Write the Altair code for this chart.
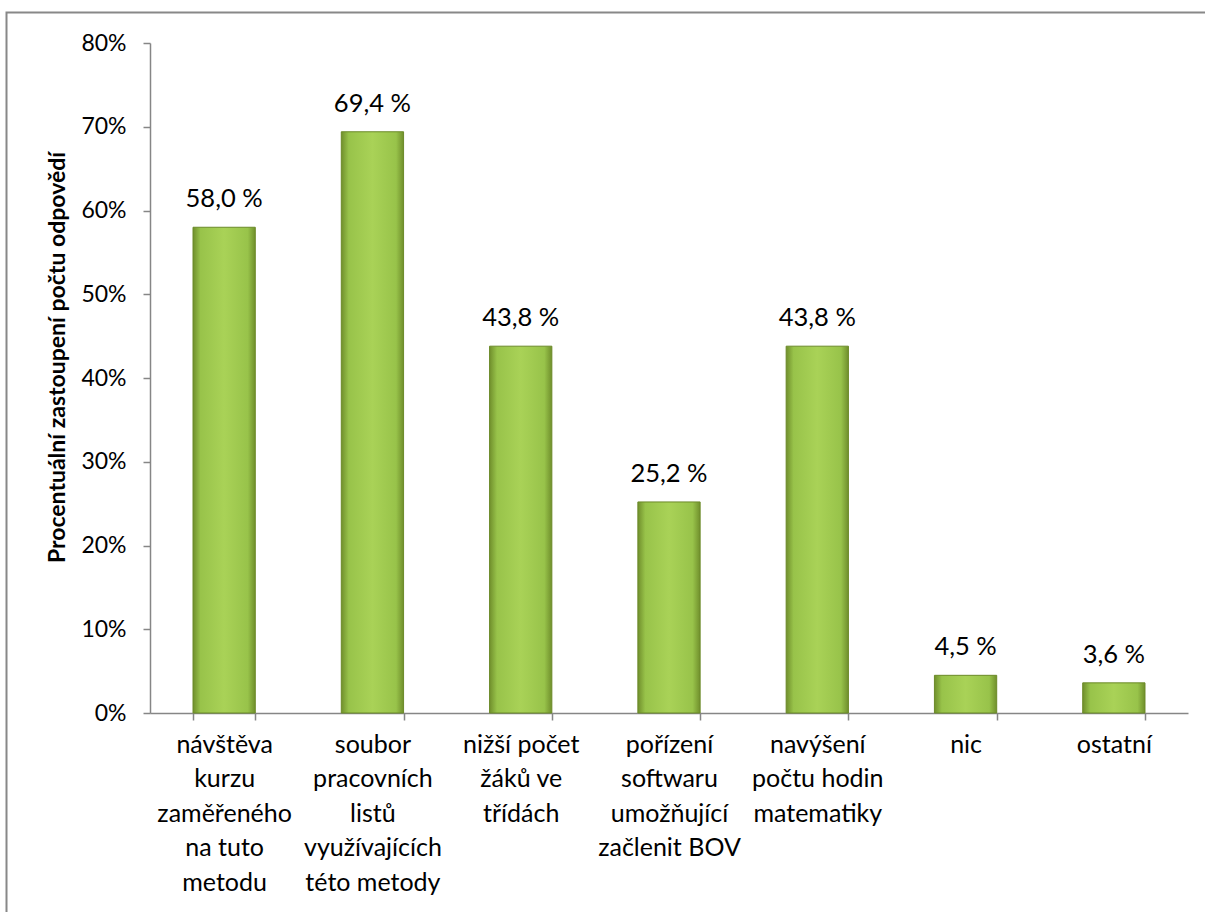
import altair as alt
import pandas as pd

categories = [
    "návštěva kurzu zaměřeného na tuto metodu",
    "soubor pracovních listů využívajících této metody",
    "nižší počet žáků ve třídách",
    "pořízení softwaru umožňující začlenit BOV",
    "navýšení počtu hodin matematiky",
    "nic",
    "ostatní",
]
label_lines = [
    ["návštěva", "kurzu", "zaměřeného", "na tuto", "metodu"],
    ["soubor", "pracovních", "listů", "využívajících", "této metody"],
    ["nižší počet", "žáků ve", "třídách"],
    ["pořízení", "softwaru", "umožňující", "začlenit BOV"],
    ["navýšení", "počtu hodin", "matematiky"],
    ["nic"],
    ["ostatní"],
]
values = [58.0, 69.4, 43.8, 25.2, 43.8, 4.5, 3.6]
value_labels = ["58,0 %", "69,4 %", "43,8 %", "25,2 %", "43,8 %", "4,5 %", "3,6 %"]

df = pd.DataFrame({
    "cat": categories,
    "val": [v / 100 for v in values],
    "lab": value_labels,
})

label_expr = "{" + ", ".join(
    f'"{c}": [' + ", ".join(f'"{l}"' for l in lines) + "]"
    for c, lines in zip(categories, label_lines)
) + "}[datum.value]"

FONT = "Lato"
AX = "#868686"

xenc = alt.X(
    "cat:N", sort=categories, title=None,
    scale=alt.Scale(paddingInner=0.58, paddingOuter=0.29),
    axis=alt.Axis(
        labelExpr=label_expr, labelAngle=0, labelFontSize=25, labelFont=FONT,
        labelColor="#000000", labelLineHeight=34.5, labelPadding=12,
        tickBand="extent", tickSize=7, tickColor=AX, domainColor=AX,
        domainWidth=1.5, tickWidth=1.5, labelLimit=250,
    ),
)
yenc = alt.Y(
    "val:Q", title="Procentuální zastoupení počtu odpovědí",
    scale=alt.Scale(domain=[0, 0.8], nice=False),
    axis=alt.Axis(
        format=".0%", values=[i / 10 for i in range(9)], grid=False,
        labelFontSize=23, labelFont=FONT, labelColor="#000000", labelPadding=17,
        tickSize=7, tickColor=AX, domainColor=AX, domainWidth=1.5, tickWidth=1.5,
        titleFont=FONT, titleFontSize=23, titleFontWeight="bold", titleColor="#000000",
        titleAngle=-90, titleX=-86, titleY=314, titleBaseline="alphabetic",
        titleAlign="center",
    ),
)

grad = alt.Gradient(
    gradient="linear", x1=0, x2=1, y1=0, y2=0,
    stops=[
        alt.GradientStop(color="#708f2c", offset=0),
        alt.GradientStop(color="#98c34a", offset=0.12),
        alt.GradientStop(color="#a9d257", offset=0.5),
        alt.GradientStop(color="#98c34a", offset=0.88),
        alt.GradientStop(color="#708f2c", offset=1),
    ],
)

base = alt.Chart(df)
bars = base.mark_bar(fill=grad, stroke="#6b8a28", strokeWidth=1).encode(x=xenc, y=yenc)
texts = base.mark_text(baseline="alphabetic", dy=-20, fontSize=25.5, font=FONT, color="#000000").encode(
    x=alt.X("cat:N", sort=categories), y="val:Q", text="lab:N"
)
border = alt.Chart(pd.DataFrame({"a": [0]})).mark_rect(
    fill=None, stroke="#888888", strokeWidth=2, clip=False
).encode(
    x=alt.value(-143.5), x2=alt.value(1070), y=alt.value(-30.5), y2=alt.value(900)
)

chart = alt.layer(border, bars, texts).properties(
    width=1038, height=670,
    autosize=alt.AutoSizeParams(type="none"),
    padding={"left": 150, "top": 43, "right": 17, "bottom": 199},
    background="white",
).configure_view(stroke=None)

chart.save("out.html", embed_options={"renderer": "svg", "actions": False})
